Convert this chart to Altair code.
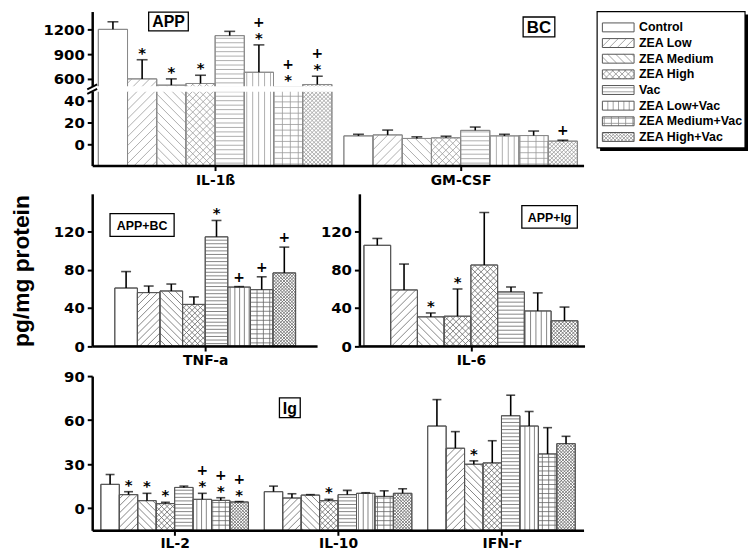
import json
import numpy as np
import pandas as pd
import altair as alt

# ---------------- data ----------------
treatments = ["Control", "ZEA Low", "ZEA Medium", "ZEA High", "Vac",
              "ZEA Low+Vac", "ZEA Medium+Vac", "ZEA High+Vac"]
legend_patterns = ["none", "fwd", "back", "cross", "horiz", "vert", "grid", "fine"]
y_title = "pg/mg protein"
box_labels = ["APP", "BC", "APP+BC", "APP+Ig", "Ig"]

top_groups = ["IL-1ß", "GM-CSF"]
il1b_mean = [1200, 600, 524, 544, 1124, 680, 490, 532]
il1b_sd = [92, 232, 76, 100, 52, 332, 0, 100]
il1b_star = [0, 1, 1, 1, 0, 1, 1, 1]
il1b_plus = [0, 0, 0, 0, 0, 1, 1, 1]
gmcsf_mean = [7.6, 8.5, 5.2, 5.8, 12.7, 7.6, 7.9, 2.7]
gmcsf_sd = [1.5, 4.5, 1.5, 1.5, 3.1, 1.5, 4.2, 0.9]
gmcsf_star = [0, 0, 0, 0, 0, 0, 0, 0]
gmcsf_plus = [0, 0, 0, 0, 0, 0, 0, 1]
top_ticks = [0, 20, 40, 600, 900, 1200]

tnf_groups = ["TNF-a"]
tnf_mean = [61, 56.2, 57.9, 43.8, 114.8, 62, 59.3, 76.9]
tnf_sd = [17.3, 6.9, 7.3, 7.9, 17.2, 0.5, 13.5, 27.1]
tnf_star = [0, 0, 0, 0, 1, 0, 0, 0]
tnf_plus = [0, 0, 0, 0, 0, 1, 1, 1]

il6_groups = ["IL-6"]
il6_mean = [105.9, 59, 30.7, 31.4, 85.2, 56.9, 36.9, 26.6]
il6_sd = [7.2, 27.2, 4.1, 28.6, 55.1, 5.2, 19, 14.4]
il6_star = [0, 0, 1, 1, 0, 0, 0, 0]
il6_plus = [0, 0, 0, 0, 0, 0, 0, 0]
il6_patterns = ["none", "fwd", "back", "cross", "cross", "horiz", "vert", "fine"]
mid_ticks = [0, 40, 80, 120]

bottom_groups = ["IL-2", "IL-10", "IFN-r"]
il2_mean = [16.3, 9.3, 5.2, 3.2, 14.2, 6.1, 5.4, 4.3]
il2_sd = [6.7, 2.0, 5.0, 0.9, 0.9, 4.1, 1.8, 0.3]
il2_star = [0, 1, 1, 1, 0, 1, 1, 1]
il2_plus = [0, 0, 0, 0, 0, 1, 1, 1]
il10_mean = [11.3, 7.0, 9.0, 5.2, 9.3, 10.2, 8.1, 10.2]
il10_sd = [3.8, 2.9, 0.3, 0.9, 2.9, 0.4, 3.8, 3.1]
il10_star = [0, 0, 0, 1, 0, 0, 0, 0]
il10_plus = [0, 0, 0, 0, 0, 0, 0, 0]
ifn_mean = [56, 40.9, 30, 30.9, 63, 56, 37, 44]
ifn_sd = [18, 11.3, 2.3, 15.1, 14, 9.9, 17.9, 5]
ifn_star = [0, 0, 1, 0, 0, 0, 0, 0]
ifn_plus = [0, 0, 0, 0, 0, 0, 0, 0]
bottom_ticks = [0, 30, 60, 90]

# ---------------- styling ----------------
FONT_NUM = "DejaVu Sans"
FONT_TXT = "Liberation Sans"
Y_EXT = 55

PAT = {
    "none": [],
    "fwd": [("d+", 9.0)],
    "back": [("d-", 9.0)],
    "cross": [("d+", 7.0), ("d-", 7.0)],
    "horiz": [("h", 4.5)],
    "vert": [("v", 6.0)],
    "grid": [("h", 5.7), ("v", 8.0)],
    "fine": [("d+", 4.0), ("d-", 4.0)],
}


def hatch(X0, X1, Yt, Yb, pattern, fac=1.0):
    segs = []
    for kind, P in PAT[pattern]:
        P = P * fac
        if kind == "h":
            k = np.ceil((Yt + 0.5) / P)
            while k * P < Yb - 0.5:
                segs.append((X0, k * P, X1, k * P))
                k += 1
        elif kind == "v":
            k = np.ceil((X0 + 0.5) / P)
            while k * P < X1 - 0.5:
                segs.append((k * P, Yt, k * P, Yb))
                k += 1
        elif kind == "d+":
            k = np.ceil((X0 + Yt) / P)
            while k * P < X1 + Yb:
                c = k * P
                xa, xb = max(X0, c - Yb), min(X1, c - Yt)
                if xb - xa > 0.4:
                    segs.append((xa, c - xa, xb, c - xb))
                k += 1
        elif kind == "d-":
            k = np.ceil((X0 - Yb) / P)
            while k * P < X1 - Yt:
                c = k * P
                xa, xb = max(X0, c + Yt), min(X1, c + Yb)
                if xb - xa > 0.4:
                    segs.append((xa, xa - c, xb, xb - c))
                k += 1
    return segs


def make_panel(groups, means, sds, stars, pluses, patterns, width, height,
               ydom, yrng, yticks, ml, gap, mr, fac, cap, bar_stroke,
               hatch_color, boxes, x_ext, label_pad=3, brk=False):
    G = len(groups)
    xmax = ml + G * 8 + (G - 1) * gap + mr
    sx = width / xmax
    dom = np.array(ydom, float)
    rng = np.array(yrng, float)

    def ypx(v):
        return float(np.interp(v, dom, rng))

    def yval(p):
        return float(np.interp(p, rng[::-1], dom[::-1]))

    bars, hat = [], []
    for g in range(G):
        for b in range(8):
            x0 = ml + g * (8 + gap) + b
            m, s = means[g][b], sds[g][b]
            bars.append(dict(x0=x0, x1=x0 + 1, xc=x0 + 0.5, mean=m, top=m + s,
                             sd=s, base=ydom[0], star=stars[g][b], plus=pluses[g][b]))
            for xa, ya, xb, yb in hatch(x0 * sx, (x0 + 1) * sx, ypx(m), ypx(ydom[0]),
                                        patterns[g][b], fac):
                hat.append(dict(hx=xa / sx, hy=yval(ya), hx2=xb / sx, hy2=yval(yb)))
    bars = pd.DataFrame(bars)
    hat = pd.DataFrame(hat)
    centers = [ml + g * (8 + gap) + 4 for g in range(G)]
    expr = "%s[round((datum.value - %s) / %s)]" % (
        json.dumps(groups, ensure_ascii=False), repr(ml + 4), repr(8 + gap))

    xs = alt.Scale(domain=[0, xmax], nice=False, zero=False)
    ys = alt.Scale(domain=list(ydom), range=list(yrng), nice=False, zero=False)
    xaxis = alt.Axis(values=centers, labelExpr=expr, title=None, grid=False,
                     domainColor="black", domainWidth=2.5, tickColor="black",
                     tickWidth=2, tickSize=5, labelFont=FONT_NUM, labelFontWeight="bold",
                     labelFontSize=14, labelColor="black", labelPadding=label_pad,
                     labelAngle=0, labelFlush=False, labelOverlap=False, zindex=1,
                     minExtent=x_ext)
    yaxis = alt.Axis(values=yticks, title=None, grid=False, format="d",
                     domainColor="black", domainWidth=2.5, tickColor="black",
                     tickWidth=2, tickSize=5, labelFont=FONT_NUM, labelFontWeight="bold",
                     labelFontSize=15, labelColor="black", labelPadding=3,
                     labelFlush=False, labelOverlap=False, zindex=0,
                     minExtent=Y_EXT)

    def X(f):
        return alt.X(f, type="quantitative", scale=xs, axis=xaxis)

    def Y(f):
        return alt.Y(f, type="quantitative", scale=ys, axis=yaxis)

    base = alt.Chart(bars)
    layers = [
        base.mark_rect(fill="white", stroke=bar_stroke, strokeWidth=1).encode(
            x=X("x0"), x2="x1", y=Y("mean"), y2="base"),
        alt.Chart(hat).mark_rule(color=hatch_color, strokeWidth=0.8).encode(
            x=X("hx"), y=Y("hy"), x2="hx2", y2="hy2"),
        base.mark_rect(fillOpacity=0, stroke=bar_stroke, strokeWidth=1).encode(
            x=X("x0"), x2="x1", y=Y("mean"), y2="base"),
    ]
    if brk:
        band = pd.DataFrame({"bx0": [-6 / sx], "bx1": [xmax], "by0": [48.5], "by1": [510]})
        layers.append(alt.Chart(band).mark_rect(fill="white").encode(
            x=X("bx0"), x2="bx1", y=Y("by0"), y2="by1"))
        marks = pd.DataFrame({
            "mx0": [-5 / sx, -5 / sx], "mx1": [5 / sx, 5 / sx],
            "my0": [yval(83.0), yval(78.5)], "my1": [yval(78.0), yval(73.5)]})
        layers.append(alt.Chart(marks).mark_rule(color="black", strokeWidth=2).encode(
            x=X("mx0"), x2="mx1", y=Y("my0"), y2="my1"))
    eb = base.transform_filter("datum.sd > 0")
    layers += [
        eb.mark_rule(color="black", strokeWidth=1.6).encode(x=X("xc"), y=Y("mean"), y2="top"),
        eb.mark_tick(orient="horizontal", size=cap, thickness=1.6, color="black").encode(
            x=X("xc"), y=Y("top")),
        base.transform_filter("datum.star == 1").mark_text(
            text="*", font=FONT_NUM, fontWeight="bold", fontSize=15, baseline="alphabetic",
            align="center", dy=-2, color="black").encode(x=X("xc"), y=Y("top")),
        base.transform_filter("datum.plus == 1 && datum.star == 1").mark_text(
            text="+", font=FONT_NUM, fontWeight="bold", fontSize=14, baseline="alphabetic",
            align="center", dy=-18, color="black").encode(x=X("xc"), y=Y("top")),
        base.transform_filter("datum.plus == 1 && datum.star == 0").mark_text(
            text="+", font=FONT_NUM, fontWeight="bold", fontSize=14, baseline="alphabetic",
            align="center", dy=-5, color="black").encode(x=X("xc"), y=Y("top")),
    ]
    for lbl, bx0, bx1, by0, by1, fs in boxes:
        d = pd.DataFrame({"label": [lbl]})
        layers.append(alt.Chart(d).mark_rect(fill="white", stroke="black", strokeWidth=1.3).encode(
            x=alt.value(bx0), x2=alt.value(bx1), y=alt.value(by0), y2=alt.value(by1)))
        layers.append(alt.Chart(d).mark_text(
            font=FONT_TXT, fontWeight="bold", fontSize=fs, baseline="middle",
            align="center", color="black").encode(
            x=alt.value((bx0 + bx1) / 2), y=alt.value((by0 + by1) / 2 + 1), text="label:N"))
    return alt.layer(*layers).properties(width=width, height=height)


# ---------------- panels ----------------
top_chart = make_panel(
    top_groups, [il1b_mean, gmcsf_mean], [il1b_sd, gmcsf_sd],
    [il1b_star, gmcsf_star], [il1b_plus, gmcsf_plus],
    [legend_patterns, legend_patterns], 496, 155.5,
    [-20, 50, 500, 1416], [155.5, 79.45, 76.3, 0], top_ticks,
    0.21, 0.41, 0.21, 1.0, 11, "#8a8a8a", "#9a9a9a",
    [(box_labels[0], 57, 97, 0.5, 19.5, 16), (box_labels[1], 435, 467, 5.5, 25.5, 17)],
    28.5, brk=True)

tnf_chart = make_panel(
    tnf_groups, [tnf_mean], [tnf_sd], [tnf_star], [tnf_plus], [legend_patterns],
    227, 153.7, [0, 160], [153.7, 0], mid_ticks, 1.0, 0, 0.95, 0.8, 10,
    "#555555", "#666666", [(box_labels[2], 18, 82.7, 20, 43, 12.5)], 22.8)

il6_chart = make_panel(
    il6_groups, [il6_mean], [il6_sd], [il6_star], [il6_plus], [il6_patterns],
    227.3, 153.7, [0, 160], [153.7, 0], mid_ticks, 0.17, 0, 0.25, 0.9, 10,
    "#555555", "#666666", [(box_labels[3], 164, 220, 12, 34.7, 12.5)], 22.8)

bottom_chart = make_panel(
    bottom_groups, [il2_mean, il10_mean, ifn_mean], [il2_sd, il10_sd, ifn_sd],
    [il2_star, il10_star, ifn_star], [il2_plus, il10_plus, ifn_plus],
    [legend_patterns] * 3, 496, 155.7, [-15, 90], [155.7, 0], bottom_ticks,
    0.47, 0.86, 0.45, 0.8, 9, "#555555", "#666666",
    [(box_labels[4], 189, 210, 22, 42, 16)], 20, label_pad=1)

# ---------------- legend ----------------
LW, LH, SH = 149.3, 137.7, 3
leg = pd.DataFrame({"name": treatments, "i": list(range(8))})
leg["yc"] = 16 + 15.8 * leg["i"]
leg["y0"] = leg["yc"] - 4.5
leg["y1"] = leg["yc"] + 4.5
leg["x0"] = 5.3
leg["x1"] = 37.3
leg["tx"] = 42.3
lh = []
for r in leg.itertuples():
    for xa, ya, xb, yb in hatch(r.x0, r.x1, r.y0, r.y1, legend_patterns[r.i], 0.9):
        lh.append(dict(hx=xa, hy=ya, hx2=xb, hy2=yb))
lh = pd.DataFrame(lh)
lxs = alt.Scale(domain=[0, LW + SH], range=[0, LW + SH], nice=False, zero=False)
lys = alt.Scale(domain=[0, LH + SH], range=[0, LH + SH], nice=False, zero=False)


def LX(f):
    return alt.X(f, type="quantitative", scale=lxs, axis=None)


def LY(f):
    return alt.Y(f, type="quantitative", scale=lys, axis=None)


one = pd.DataFrame({"k": [0]})
legend_chart = alt.layer(
    alt.Chart(one).mark_rect(fill="black").encode(
        x=alt.value(SH), x2=alt.value(LW + SH), y=alt.value(SH), y2=alt.value(LH + SH)),
    alt.Chart(one).mark_rect(fill="white", stroke="black", strokeWidth=1.2).encode(
        x=alt.value(0), x2=alt.value(LW), y=alt.value(0), y2=alt.value(LH)),
    alt.Chart(leg).mark_rect(fill="white").encode(x=LX("x0"), x2="x1", y=LY("y0"), y2="y1"),
    alt.Chart(lh).mark_rule(color="#8a8a8a", strokeWidth=0.8).encode(
        x=LX("hx"), y=LY("hy"), x2="hx2", y2="hy2"),
    alt.Chart(leg).mark_rect(fillOpacity=0, stroke="#555555", strokeWidth=1).encode(
        x=LX("x0"), x2="x1", y=LY("y0"), y2="y1"),
    alt.Chart(leg).mark_text(font=FONT_TXT, fontWeight="bold", fontSize=12.5,
                             baseline="middle", align="left", color="black").encode(
        x=LX("tx"), y=LY("yc"), text="name:N"),
).properties(width=LW + SH, height=LH + SH)

# ---------------- y title ----------------
ylab_chart = alt.Chart(pd.DataFrame({"t": [y_title]})).mark_text(
    angle=270, font=FONT_TXT, fontWeight="bold", fontSize=23, baseline="middle",
    align="center", color="black").encode(
    x=alt.value(14), y=alt.value(262), text="t:N").properties(width=30, height=523.6)

# ---------------- layout ----------------
top_row = alt.hconcat(top_chart, legend_chart, spacing=13.7, bounds="flush")
mid_row = alt.hconcat(tnf_chart, il6_chart, spacing=42.7, bounds="flush")
body = alt.vconcat(top_row, mid_row, bottom_chart, spacing=0)
chart = alt.hconcat(ylab_chart, body, spacing=55, bounds="flush").properties(
    padding={"left": 0, "top": 0, "right": 0, "bottom": 0}
).configure_view(stroke=None)

chart.save("out.html", embed_options={"renderer": "svg", "actions": False})
